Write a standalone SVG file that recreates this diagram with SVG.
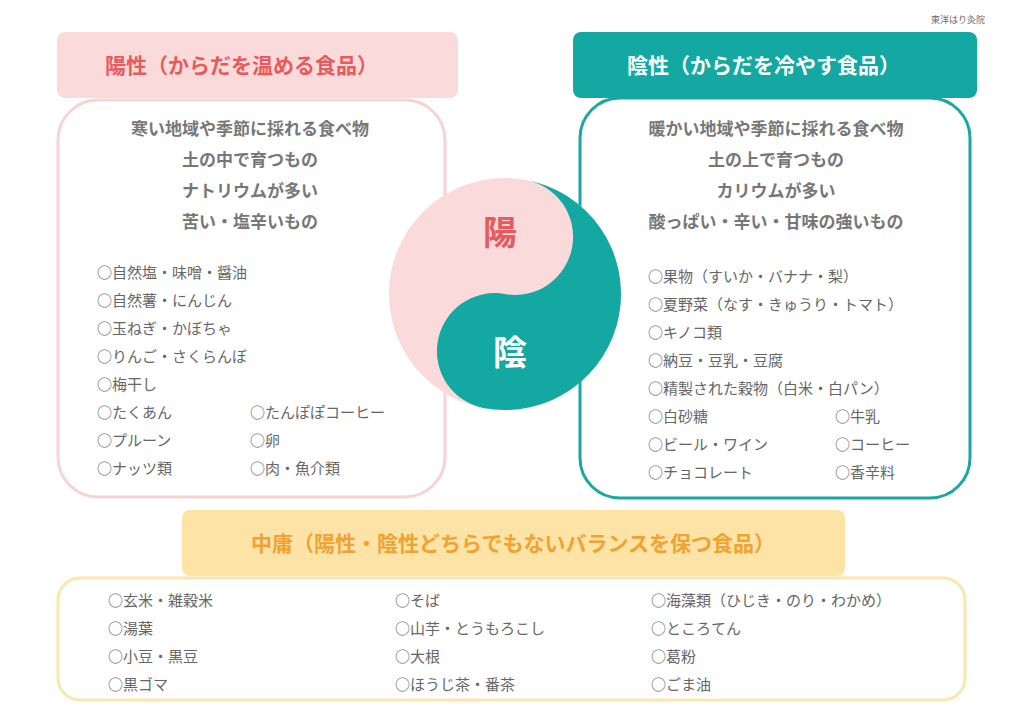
<svg xmlns="http://www.w3.org/2000/svg" width="1024" height="724" viewBox="0 0 1024 724">
<style>
text{font-family:"Noto Sans CJK JP",sans-serif;fill:#6b6b6b}
.h{font-size:21px;font-weight:bold}
.c{font-size:17px;text-anchor:middle;font-weight:bold;fill:#777}
.i{font-size:15px;fill:#666}
</style>
<rect width="1024" height="724" fill="#fff"/>
<text x="985" y="23" font-size="9" text-anchor="end" fill="#999">東洋はり灸院</text>
<g id="yang">
<rect x="58" y="100" width="387" height="397" rx="40" fill="#fff" stroke="#f7d3d6" stroke-width="3"/>
<rect x="57" y="32" width="401" height="66" rx="8" fill="#fadadb"/>
<text class="h" x="105" y="73" style="fill:#e75a5d">陽性（からだを温める食品）</text>
<text class="c" x="250" y="135">寒い地域や季節に採れる食べ物</text>
<text class="c" x="250" y="166">土の中で育つもの</text>
<text class="c" x="250" y="197">ナトリウムが多い</text>
<text class="c" x="250" y="228">苦い・塩辛いもの</text>
<text class="i" x="97" y="278">○自然塩・味噌・醤油</text>
<text class="i" x="97" y="306">○自然薯・にんじん</text>
<text class="i" x="97" y="334">○玉ねぎ・かぼちゃ</text>
<text class="i" x="97" y="362">○りんご・さくらんぼ</text>
<text class="i" x="97" y="390">○梅干し</text>
<text class="i" x="97" y="418">○たくあん</text>
<text class="i" x="97" y="446">○プルーン</text>
<text class="i" x="97" y="474">○ナッツ類</text>
<text class="i" x="250" y="418">○たんぽぽコーヒー</text>
<text class="i" x="250" y="446">○卵</text>
<text class="i" x="250" y="474">○肉・魚介類</text>
</g>
<g id="yin">
<rect x="580" y="98" width="390" height="400" rx="40" fill="#fff" stroke="#1aa8a2" stroke-width="3"/>
<rect x="573" y="32" width="404" height="66" rx="8" fill="#14a8a2"/>
<text class="h" x="627" y="73" style="fill:#fff">陰性（からだを冷やす食品）</text>
<text class="c" x="776" y="135">暖かい地域や季節に採れる食べ物</text>
<text class="c" x="776" y="166">土の上で育つもの</text>
<text class="c" x="776" y="197">カリウムが多い</text>
<text class="c" x="776" y="228">酸っぱい・辛い・甘味の強いもの</text>
<text class="i" x="648" y="282">○果物（すいか・バナナ・梨）</text>
<text class="i" x="648" y="310">○夏野菜（なす・きゅうり・トマト）</text>
<text class="i" x="648" y="338">○キノコ類</text>
<text class="i" x="648" y="366">○納豆・豆乳・豆腐</text>
<text class="i" x="648" y="394">○精製された穀物（白米・白パン）</text>
<text class="i" x="648" y="422">○白砂糖</text>
<text class="i" x="648" y="450">○ビール・ワイン</text>
<text class="i" x="648" y="478">○チョコレート</text>
<text class="i" x="835" y="422">○牛乳</text>
<text class="i" x="835" y="450">○コーヒー</text>
<text class="i" x="835" y="478">○香辛料</text>
</g>
<g id="yinyang">
<circle cx="505" cy="294" r="116" fill="#fadadb"/>
<path transform="rotate(10 505 294)" d="M505 178 A116 116 0 0 1 505 410 A58 58 0 0 1 505 294 A58 58 0 0 0 505 178Z" fill="#14a8a2"/>
<text x="500" y="245" font-size="34" font-weight="bold" text-anchor="middle" style="fill:#e75a5d">陽</text>
<text x="510" y="365" font-size="34" font-weight="bold" text-anchor="middle" style="fill:#fff">陰</text>
</g>
<g id="neutral">
<rect x="58" y="578" width="907" height="122" rx="22" fill="#fff" stroke="#fce6ad" stroke-width="3"/>
<rect x="182" y="510" width="663" height="66" rx="8" fill="#fde4a6"/>
<text class="h" x="513" y="551" text-anchor="middle" style="fill:#f0a232">中庸（陽性・陰性どちらでもないバランスを保つ食品）</text>
<text class="i" x="108" y="606">○玄米・雑穀米</text>
<text class="i" x="108" y="634">○湯葉</text>
<text class="i" x="108" y="662">○小豆・黒豆</text>
<text class="i" x="108" y="690">○黒ゴマ</text>
<text class="i" x="395" y="606">○そば</text>
<text class="i" x="395" y="634">○山芋・とうもろこし</text>
<text class="i" x="395" y="662">○大根</text>
<text class="i" x="395" y="690">○ほうじ茶・番茶</text>
<text class="i" x="651" y="606">○海藻類（ひじき・のり・わかめ）</text>
<text class="i" x="651" y="634">○ところてん</text>
<text class="i" x="651" y="662">○葛粉</text>
<text class="i" x="651" y="690">○ごま油</text>
</g>
</svg>
